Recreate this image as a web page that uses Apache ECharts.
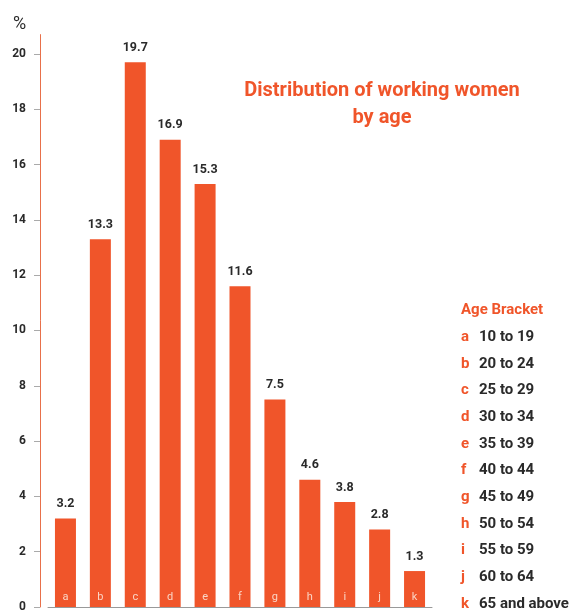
<!DOCTYPE html>
<html><head><meta charset="utf-8">
<script src="https://cdn.jsdelivr.net/npm/echarts@6/dist/echarts.min.js"></script>
<style>html,body{margin:0;padding:0;background:#fff}#c{width:571px;height:613px}</style>
</head><body><div id="c"></div>
<script>
const categories = ['a','b','c','d','e','f','g','h','i','j','k'];
const ageBrackets = ['10 to 19','20 to 24','25 to 29','30 to 34','35 to 39','40 to 44','45 to 49','50 to 54','55 to 59','60 to 64','65 and above'];
const values = [3.2, 13.3, 19.7, 16.9, 15.3, 11.6, 7.5, 4.6, 3.8, 2.8, 1.3];
const yTicks = [0,2,4,6,8,10,12,14,16,18,20];

const FONT = 'Roboto,"Liberation Sans Narrow",sans-serif';
const ORANGE = '#f0552a';
const DARK = '#2a2a2a';

const legendText = '{h|Age Bracket}\n' + categories.map((c,i)=>'{l|'+c+'}{t|'+ageBrackets[i]+'}').join('\n');

const chart = echarts.init(document.getElementById('c'));
chart.setOption({
  animation: false,
  backgroundColor: '#fff',
  title: [
    { text: 'Distribution of working women\nby age', left: 382, top: 77, textAlign: 'center', padding: 0,
      textStyle: { fontFamily: FONT, fontWeight: 'bold', fontSize: 20, color: ORANGE, lineHeight: 27 } },
    { text: '%', left: 13, top: 15, padding: 0, textStyle: { fontFamily: FONT, fontSize: 18, color: DARK, fontWeight: 'normal' } },
    { text: legendText, left: 461, top: 297, padding: 0,
      textStyle: { rich: {
        h: { fontFamily: FONT, fontWeight: 'bold', fontSize: 15, color: ORANGE, lineHeight: 26.7 },
        l: { fontFamily: FONT, fontWeight: 'bold', fontSize: 15, color: ORANGE, lineHeight: 26.7, width: 18 },
        t: { fontFamily: FONT, fontWeight: 'bold', fontSize: 15, color: DARK, lineHeight: 26.7 }
      } } }
  ],
  grid: { left: 48, right: 139, top: 34.6, bottom: 4, containLabel: false },
  xAxis: {
    type: 'category', data: categories,
    axisLine: { show: true, lineStyle: { color: '#999', width: 1 } },
    axisTick: { show: false },
    axisLabel: { show: false }
  },
  yAxis: {
    type: 'value', min: 0, max: 20.7, offset: 8,
    splitLine: { show: false },
    axisLine: { show: true, lineStyle: { color: '#e8704a', width: 1 } },
    axisTick: { show: true, length: 6, lineStyle: { color: '#aaa' }, customValues: yTicks },
    axisLabel: { customValues: yTicks, fontFamily: FONT, fontWeight: 'bold', fontSize: 12, color: DARK, margin: 14 }
  },
  series: [
    { type: 'bar', data: values, barWidth: 21, itemStyle: { color: ORANGE },
      label: { show: true, position: 'top', distance: 8, fontFamily: FONT, fontWeight: 'bold', fontSize: 12.5, color: DARK } },
    { type: 'bar', data: values, barWidth: 21, barGap: '-100%', itemStyle: { color: 'rgba(0,0,0,0)' }, z: 5,
      label: { show: true, position: 'insideBottom', distance: 4, formatter: p => categories[p.dataIndex],
        fontFamily: FONT, fontSize: 11, color: '#fbd5c5' } }
  ]
});
</script></body></html>
